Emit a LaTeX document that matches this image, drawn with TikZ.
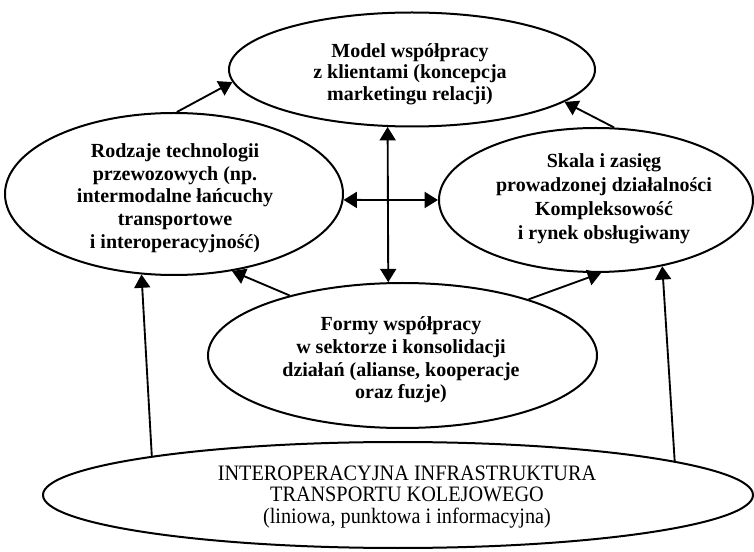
\documentclass[tikz,border=0pt]{standalone}
\usepackage{fontspec}
\setmainfont{Liberation Serif}
\newfontfamily\condserif[FakeStretch=0.92]{Liberation Serif}
\usetikzlibrary{shapes.geometric,arrows.meta}
\begin{document}
\begin{tikzpicture}[x=0.75pt,y=-0.75pt,
  oval/.style={draw, ellipse, line width=1.5pt, inner sep=0pt},
  lbl/.style={align=center, inner sep=0pt, font=\fontsize{15}{17}\selectfont\bfseries},
  lblr/.style={align=center, inner sep=0pt, font=\condserif\fontsize{16.5}{16}\selectfont},
  tip/.tip={Triangle[length=10pt,width=12pt]},
  arr/.style={line width=1.4pt, -tip},
  darr/.style={line width=1.4pt, tip-tip}]
\useasboundingbox (0,0) rectangle (754,552);
% ellipses
\node[oval, minimum width=274.5pt, minimum height=85.5pt] (top) at (412,69.5) {};
\node[oval, minimum width=253.5pt, minimum height=121.5pt] (lft) at (174,194) {};
\node[oval, minimum width=235.5pt, minimum height=108pt] (rgt) at (596,200) {};
\node[oval, minimum width=291.75pt, minimum height=108.75pt] (mid) at (402.5,355.5) {};
\node[oval, minimum width=532.5pt, minimum height=79.5pt] (bot) at (398,495) {};
% texts
\node[lbl, font=\fontsize{15}{16}\selectfont\bfseries] (ttop) at (410,74) {Model współpracy\\z klientami (koncepcja\\marketingu relacji)};
\node[lbl] (tlft) at (175,198) {Rodzaje technologii\\przewozowych (np.\\intermodalne łańcuchy\\transportowe\\i interoperacyjność)};
\node[lbl, font=\fontsize{15}{18}\selectfont\bfseries] (trgt) at (604,199) {Skala i zasięg\\prowadzonej działalności\\Kompleksowość\\i rynek obsługiwany};
\node[lbl] (tmid) at (401,360) {Formy współpracy\\w sektorze i konsolidacji\\działań (alianse, kooperacje\\oraz fuzje)};
\node[lblr] (tbot) at (407,497) {INTEROPERACYJNA INFRASTRUKTURA\\TRANSPORTU KOLEJOWEGO\\(liniowa, punktowa i informacyjna)};
% connectors
\draw[arr] (lft.88) -- (top.184.7);
\draw[arr] (rgt.76.7) -- (top.348.9);
\draw[darr] (top.247) -- (mid.101.3);
\draw[darr] (lft.358) -- (rgt.180);
\draw[arr] (mid.152.5) -- (lft.307.8);
\draw[arr] (mid.24) -- (rgt.274);
\draw[arr] (bot.171.8) -- (lft.248.1);
\draw[arr] (bot.7.64) -- (rgt.315.3);
\end{tikzpicture}
\end{document}
